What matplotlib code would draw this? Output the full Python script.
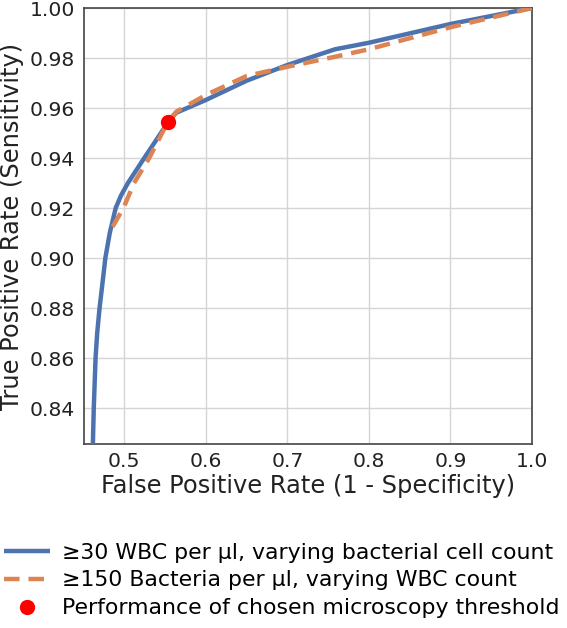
import matplotlib
matplotlib.use("Agg")
import matplotlib.pyplot as plt

# ROC curve values
wbc_fpr = [0.4615, 0.4626, 0.4648, 0.4668, 0.4697, 0.4733, 0.4768, 0.4822, 0.4895, 0.4960,
           0.5045, 0.5245, 0.5368, 0.554, 0.5637, 0.600, 0.650, 0.700, 0.7586, 0.800, 0.900, 1.0]
wbc_tpr = [0.8256, 0.840, 0.860, 0.870, 0.880, 0.890, 0.900, 0.910, 0.920, 0.925,
           0.930, 0.940, 0.946, 0.9545, 0.9581, 0.9632, 0.9709, 0.9772, 0.9835, 0.9861, 0.9936, 1.0]

bact_fpr = [0.4857, 0.499, 0.512, 0.5306, 0.554, 0.5637, 0.600, 0.650, 0.700,
            0.7586, 0.800, 0.900, 1.0]
bact_tpr = [0.9125, 0.920, 0.930, 0.940, 0.9548, 0.9585, 0.9652, 0.9728, 0.9765,
            0.9805, 0.9835, 0.9923, 1.0]

chosen_fpr = [0.554]
chosen_tpr = [0.9545]

labels = ["\u226530 WBC per \u00b5l, varying bacterial cell count",
          "\u2265150 Bacteria per \u00b5l, varying WBC count",
          "Performance of chosen microscopy threshold"]

plt.rcParams['font.family'] = ['DejaVu Sans']
fig = plt.figure(figsize=(5.67, 6.28), dpi=100)
ax = fig.add_axes([83.5 / 567, 1 - 444 / 628, 448.5 / 567, 436 / 628])

ax.plot(wbc_fpr, wbc_tpr, color='#4c72b0', lw=3.2, label=labels[0], zorder=3,
        solid_joinstyle='round', solid_capstyle='butt')
ax.plot(bact_fpr, bact_tpr, color='#dd8452', lw=3.2, ls=(0, (3.5, 2)), label=labels[1], zorder=3,
        dash_joinstyle='round')
ax.plot(chosen_fpr, chosen_tpr, marker='o', color='red', ms=10, label=labels[2], zorder=4,
        linestyle='none')

ax.set_xlim(0.45, 1.0)
ax.set_ylim(0.8256, 1.0)
ax.set_xticks([0.5, 0.6, 0.7, 0.8, 0.9, 1.0])
ax.set_yticks([0.84, 0.86, 0.88, 0.90, 0.92, 0.94, 0.96, 0.98, 1.00])
ax.set_yticklabels(['%.2f' % v for v in ax.get_yticks()])
ax.grid(True, color='#d5d5d5', lw=1)
ax.set_axisbelow(True)
for s in ax.spines.values():
    s.set_color('#444444')
    s.set_linewidth(1.2)
ax.tick_params(labelsize=14.7, length=0, pad=6, colors='#222222')
ax.set_xlabel('False Positive Rate (1 - Specificity)', fontsize=17.4, color='#222222', labelpad=2)
ax.set_ylabel('True Positive Rate (Sensitivity)', fontsize=17.4, color='#222222', labelpad=4)

fig.legend(loc='upper left', bbox_to_anchor=(-0.009, 0.15), frameon=False,
           fontsize=15.8, handlelength=2.1, handletextpad=0.55, labelspacing=0.36, borderaxespad=0)

fig.savefig('out.png', dpi=100)
